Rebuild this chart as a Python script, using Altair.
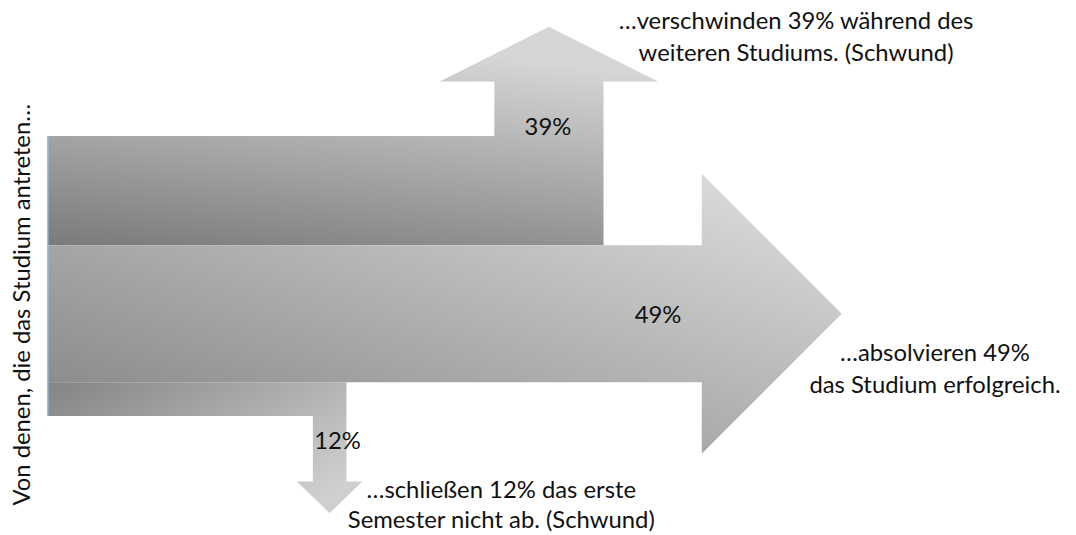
import altair as alt
import pandas as pd

# ---- data -------------------------------------------------------------
shares = [39, 49, 12]                      # Schwund im Studium, Absolventen, Schwund 1. Semester
share_labels = ["39%", "49%", "12%"]
note_top = ["…verschwinden 39% während des", "weiteren Studiums. (Schwund)"]
note_mid = ["…absolvieren 49%", "das Studium erfolgreich."]
note_bot = ["…schließen 12% das erste", "Semester nicht ab. (Schwund)"]
side_label = "Von denen, die das Studium antreten…"

# ---- layout (page pixel coordinates) ---------------------------------
W, H = 1068, 527
X0, Y0, PX_PER_PCT = 48, 135, 2.82
FONT = "Lato"
FS = 24

t1, t2, t3 = [s * PX_PER_PCT for s in shares]
b1_top, b1_bot = Y0, Y0 + t1
b2_top, b2_bot = b1_bot, b1_bot + t2
b3_top, b3_bot = b2_bot, b2_bot + t3

# top (upward) arrow
s1_r = 608
s1_l = s1_r - t1
s1_top = 80
flare1, head1 = 55, 55
c1 = (s1_l + s1_r) / 2
top_df = pd.DataFrame({
    "y": [s1_top - head1, s1_top, s1_top, b1_top, b1_top, b1_bot],
    "x": [c1, s1_l - flare1, s1_l, s1_l, X0, X0],
    "x2": [c1, s1_r + flare1, s1_r, s1_r, s1_r, s1_r],
})

# middle (rightward) arrow
body_end, flare2, tip2 = 707, 72, 848
mid_c = (b2_top + b2_bot) / 2
mid_df = pd.DataFrame({
    "x": [X0, body_end, body_end, tip2],
    "y": [b2_top, b2_top, b2_top - flare2, mid_c],
    "y2": [b2_bot, b2_bot, b2_bot + flare2, mid_c],
})

# bottom (downward) arrow
s3_r = 349
s3_l = s3_r - t3
s3_bot = 483
flare3, head3 = 16, 32
c3 = (s3_l + s3_r) / 2
bot_df = pd.DataFrame({
    "y": [b3_top, b3_bot, b3_bot, s3_bot, s3_bot, s3_bot + head3],
    "x": [X0, X0, s3_l, s3_l, s3_l - flare3, c3],
    "x2": [s3_r, s3_r, s3_r, s3_r, s3_r + flare3, c3],
})

xs = alt.Scale(domain=[8, 8 + W], nice=False, zero=False)
ys = alt.Scale(domain=[8, 8 + H], nice=False, zero=False, reverse=True)


def grad(x1, y1, x2, y2, c0, c1_):
    return alt.Gradient(gradient="linear", x1=x1, y1=y1, x2=x2, y2=y2,
                        stops=[alt.GradientStop(offset=0, color=c0),
                               alt.GradientStop(offset=1, color=c1_)])


top = alt.Chart(top_df).mark_area(
    orient="horizontal", color=grad(0, 1, 0.33, 0, "#7a7a7a", "#d6d6d6")
).encode(
    y=alt.Y("y:Q", scale=ys, axis=None),
    x=alt.X("x:Q", scale=xs, axis=None),
    x2="x2:Q",
)

mid = alt.Chart(mid_df).mark_area(
    orient="vertical", color=grad(0, 1, 1, 0, "#808080", "#e2e2e2")
).encode(
    x=alt.X("x:Q", scale=xs, axis=None),
    y=alt.Y("y:Q", scale=ys, axis=None),
    y2="y2:Q",
)

bot = alt.Chart(bot_df).mark_area(
    orient="horizontal", color=grad(0, 0, 1, 0.68, "#848484", "#cfcfcf")
).encode(
    y=alt.Y("y:Q", scale=ys, axis=None),
    x=alt.X("x:Q", scale=xs, axis=None),
    x2="x2:Q",
)

edge_df = pd.DataFrame({"x": [X0], "y": [b1_top], "y2": [b3_bot]})
edge = alt.Chart(edge_df).mark_rule(color="#9dc3e6", strokeWidth=1.5).encode(
    x=alt.X("x:Q", scale=xs, axis=None),
    y=alt.Y("y:Q", scale=ys, axis=None),
    y2="y2:Q",
)

labels_df = pd.DataFrame({
    "x": [552, 663, 340,
          802, 802,
          942, 942,
          505, 505],
    "y": [127, 316, 443,
          20, 52,
          355, 387,
          493, 523],
    "t": share_labels + note_top + note_mid + note_bot,
})
labels = alt.Chart(labels_df).mark_text(
    font=FONT, fontSize=FS, color="#111111", align="center", baseline="middle"
).encode(
    x=alt.X("x:Q", scale=xs, axis=None),
    y=alt.Y("y:Q", scale=ys, axis=None),
    text="t:N",
)

side_df = pd.DataFrame({"x": [23], "y": [305], "t": [side_label]})
side = alt.Chart(side_df).mark_text(
    font=FONT, fontSize=FS, color="#111111", align="center", baseline="middle", angle=270
).encode(
    x=alt.X("x:Q", scale=xs, axis=None),
    y=alt.Y("y:Q", scale=ys, axis=None),
    text="t:N",
)

chart = alt.layer(top, mid, bot, edge, labels, side).properties(
    width=W, height=H, padding=0,
    autosize=alt.AutoSizeParams(type="none"),
).configure_view(stroke=None)

chart.save("out.html", embed_options={"renderer": "svg", "actions": False})
